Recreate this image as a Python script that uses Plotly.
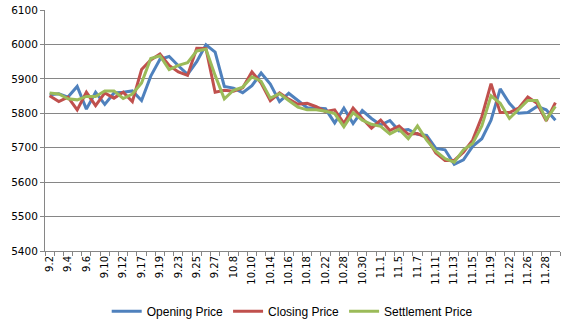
import plotly.graph_objects as go

dates = ["9.2", "9.3", "9.4", "9.5", "9.6", "9.9", "9.10", "9.11", "9.12", "9.16",
         "9.17", "9.18", "9.19", "9.20", "9.23", "9.24", "9.25", "9.26", "9.27", "9.30",
         "10.8", "10.9", "10.10", "10.11", "10.14", "10.15", "10.16", "10.17", "10.18", "10.21",
         "10.22", "10.25", "10.28", "10.29", "10.30", "10.31", "11.1", "11.4", "11.5", "11.6",
         "11.7", "11.8", "11.11", "11.12", "11.13", "11.14", "11.15", "11.18", "11.19", "11.20",
         "11.22", "11.25", "11.26", "11.27", "11.28", "11.29"]

opening = [5854, 5857, 5847, 5878, 5812, 5861, 5826, 5859, 5861, 5865,
           5837, 5908, 5957, 5965, 5938, 5913, 5950, 5999, 5978, 5878,
           5873, 5860, 5880, 5917, 5885, 5834, 5858, 5836, 5816, 5815,
           5813, 5772, 5815, 5770, 5808, 5785, 5766, 5779, 5749, 5753,
           5739, 5736, 5698, 5694, 5652, 5665, 5704, 5726, 5780, 5871,
           5829, 5800, 5802, 5820, 5810, 5780]

closing = [5851, 5834, 5847, 5810, 5861, 5822, 5859, 5844, 5861, 5834,
           5927, 5955, 5972, 5939, 5920, 5910, 5989, 5988, 5861, 5867,
           5864, 5874, 5920, 5888, 5837, 5859, 5841, 5826, 5829, 5819,
           5805, 5810, 5771, 5815, 5785, 5757, 5780, 5750, 5763, 5739,
           5741, 5729, 5685, 5663, 5663, 5687, 5722, 5790, 5886, 5802,
           5802, 5815, 5847, 5829, 5778, 5831]

settlement = [5859, 5856, 5842, 5839, 5849, 5849, 5865, 5865, 5843, 5856,
              5888, 5959, 5967, 5927, 5939, 5947, 5981, 5986, 5910, 5842,
              5867, 5876, 5906, 5893, 5844, 5857, 5837, 5818, 5810, 5810,
              5806, 5799, 5761, 5802, 5780, 5768, 5762, 5740, 5754, 5726,
              5763, 5722, 5690, 5668, 5658, 5694, 5712, 5763, 5851, 5829,
              5785, 5810, 5837, 5837, 5782, 5820]

series_names = ["Opening Price", "Closing Price", "Settlement Price"]
series_colors = ["#4F81BD", "#C0504D", "#9BBB59"]

x = list(range(len(dates)))

fig = go.Figure()
for name, vals, col in zip(series_names, [opening, closing, settlement], series_colors):
    fig.add_trace(go.Scatter(x=x, y=vals, mode="lines", name=name,
                             line=dict(color=col, width=3)))

fig.update_layout(
    width=570, height=326,
    margin=dict(l=45, r=10, t=10, b=75, autoexpand=False),
    paper_bgcolor="white", plot_bgcolor="white",
    showlegend=True,
    legend=dict(orientation="h", x=0.48, xanchor="center",
                yref="container", y=0.045, yanchor="middle",
                font=dict(family="Liberation Sans, Arial", size=12, color="#000000"),
                itemwidth=30, tracegroupgap=0),
)
fig.update_xaxes(
    range=[-0.5, len(dates) - 0.5],
    tickmode="array", tickvals=x[::2], ticktext=dates[::2],
    tickangle=-90, ticks="", showgrid=False, zeroline=False,
    showline=True, linecolor="#868686", linewidth=1,
    tickfont=dict(family="DejaVu Sans", size=10, color="#000000"),
    automargin=False,
    minor=dict(ticks="outside", tick0=-0.5, dtick=1, ticklen=4, tickcolor="#868686", showgrid=False),
)
fig.update_yaxes(
    range=[5400, 6100], dtick=100, tick0=5400,
    showgrid=True, gridcolor="#868686", gridwidth=1,
    showline=True, linecolor="#868686", linewidth=1,
    ticks="outside", ticklen=4, tickcolor="#868686",
    zeroline=False, automargin=False,
    tickfont=dict(family="DejaVu Sans", size=10.5, color="#000000"),
)

fig.write_html("out.html")
